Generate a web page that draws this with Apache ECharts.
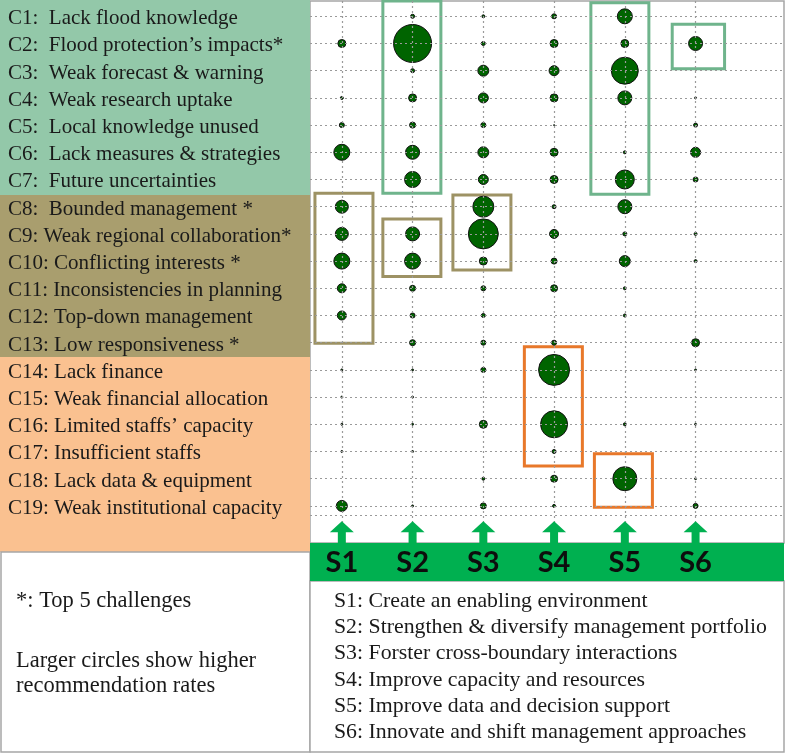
<!DOCTYPE html>
<html>
<head>
<meta charset="utf-8">
<script src="https://cdn.jsdelivr.net/npm/echarts@6/dist/echarts.min.js"></script>
<style>
  html, body { margin: 0; padding: 0; background: #fff; }
  #main { width: 787px; height: 754px; }
</style>
</head>
<body>
<div id="main"></div>
<script>
// challenges (rows) and strategies (columns)
var challenges = [
    'C1:  Lack flood knowledge',
    'C2:  Flood protection\u2019s impacts*',
    'C3:  Weak forecast & warning',
    'C4:  Weak research uptake',
    'C5:  Local knowledge unused',
    'C6:  Lack measures & strategies',
    'C7:  Future uncertainties',
    'C8:  Bounded management *',
    'C9: Weak regional collaboration*',
    'C10: Conflicting interests *',
    'C11: Inconsistencies in planning',
    'C12: Top-down management',
    'C13: Low responsiveness *',
    'C14: Lack finance',
    'C15: Weak financial allocation',
    'C16: Limited staffs\u2019 capacity',
    'C17: Insufficient staffs',
    'C18: Lack data & equipment',
    'C19: Weak institutional capacity'
];
var strategies = ['S1', 'S2', 'S3', 'S4', 'S5', 'S6'];

// recommendation rate per challenge (circle size), one array per strategy
var rateS1 = [0, 8, 0, 3, 5, 16, 0, 13, 13, 16, 9, 9, 0, 2, 2, 2, 2, 0, 11];
var rateS2 = [4, 38, 4, 8, 6, 14, 16, 0, 14, 16, 6, 5, 6, 2, 2, 2, 2, 0, 2];
var rateS3 = [3, 4, 11, 10, 5, 11, 10, 21, 30, 8, 5, 4, 5, 5, 0, 8, 0, 3, 6];
var rateS4 = [5, 8, 10, 8, 1, 8, 8, 4, 9, 6, 7, 0, 5, 31, 0, 27, 4, 7, 3];
var rateS5 = [15, 8, 27, 14, 0, 3, 19, 14, 4, 11, 3, 3, 0, 0, 0, 3, 0, 24, 0];
var rateS6 = [0, 14, 0, 2, 4, 10, 5, 0, 3, 3, 0, 0, 8, 2, 0, 2, 0, 2, 5];
var rates = [rateS1, rateS2, rateS3, rateS4, rateS5, rateS6];

var strategyNotes = [
    'S1: Create an enabling environment',
    'S2: Strengthen & diversify management portfolio',
    'S3: Forster cross-boundary interactions',
    'S4: Improve capacity and resources',
    'S5: Improve data and decision support',
    'S6: Innovate and shift management approaches'
];
var notes = ['*: Top 5 challenges', 'Larger circles show higher', 'recommendation rates'];

// highlighted boxes: [x from, x to, row from, row to] in axis units
var boxTeal = [[1.58, 2.4, 0.44, 7.51], [4.52, 5.34, 0.5, 7.54], [5.67, 6.41, 1.29, 2.93]];
var boxOlive = [[0.62, 1.44, 7.51, 13.02], [1.58, 2.4, 8.45, 10.57], [2.57, 3.39, 7.57, 10.33]];
var boxOrange = [[3.58, 4.4, 13.15, 17.53], [4.57, 5.39, 17.08, 19.05]];

var serif = '"Liberation Serif", "DejaVu Serif", serif';

var bubbles = [];
rates.forEach(function (arr, i) {
    arr.forEach(function (v, j) {
        if (v > 0) bubbles.push([i + 1, j + 1, v]);
    });
});

var areaData = function (boxes) {
    return boxes.map(function (b) {
        return [{ xAxis: b[0], yAxis: b[2] }, { xAxis: b[1], yAxis: b[3] }];
    });
};
var boxSeries = function (boxes, color) {
    return {
        type: 'scatter', data: [], silent: true, z: 4,
        markArea: {
            silent: true,
            itemStyle: { color: 'rgba(0,0,0,0)', borderColor: color, borderWidth: 3 },
            data: areaData(boxes)
        }
    };
};

var gridLines = [];
strategies.forEach(function (s, i) { gridLines.push({ xAxis: i + 1 }); });
challenges.forEach(function (c, j) { gridLines.push({ yAxis: j + 1 }); });
gridLines.push({ yAxis: 19.34 });

var graphics = [
    { type: 'rect', shape: { x: 0, y: 0, width: 310, height: 195 }, style: { fill: '#93c8a9' }, z: 0 },
    { type: 'rect', shape: { x: 0, y: 195, width: 310, height: 162 }, style: { fill: '#a99e6e' }, z: 0 },
    { type: 'rect', shape: { x: 0, y: 357, width: 310, height: 195 }, style: { fill: '#fac190' }, z: 0 },
    { type: 'rect', shape: { x: 1, y: 552, width: 309, height: 200 }, style: { fill: '#fff', stroke: '#a6a6a6', lineWidth: 1.5 }, z: 0 },
    { type: 'rect', shape: { x: 310, y: 581, width: 474, height: 171 }, style: { fill: '#fff', stroke: '#a6a6a6', lineWidth: 1.5 }, z: 0 },
    { type: 'rect', shape: { x: 310, y: 543, width: 474, height: 38 }, style: { fill: '#00b050' }, z: 0 }
];
var noteY = [601, 661, 686];
notes.forEach(function (t, k) {
    graphics.push({ type: 'text', z: 1, style: { text: t, x: 16, y: noteY[k], font: '22.5px ' + serif, fill: '#1a1a1a', verticalAlign: 'middle' } });
});
strategyNotes.forEach(function (t, k) {
    graphics.push({ type: 'text', z: 1, style: { text: t, x: 334, y: 601 + k * 26.3, font: '21.8px ' + serif, fill: '#1a1a1a', verticalAlign: 'middle' } });
});

var option = {
    backgroundColor: '#fff',
    animation: false,
    graphic: graphics,
    grid: [
        { left: 310, right: 3, top: 1, height: 542, show: true, backgroundColor: '#fff', borderColor: '#a6a6a6', borderWidth: 1.5 },
        { left: 0, width: 310, top: 5, height: 517 }
    ],
    xAxis: [
        { type: 'value', gridIndex: 0, min: 0.55, max: 7.25, show: false },
        { type: 'value', gridIndex: 1, show: false }
    ],
    yAxis: [
        { type: 'value', gridIndex: 0, min: 0.4375, max: 20.364, inverse: true, show: false },
        {
            type: 'category', gridIndex: 1, data: challenges, inverse: true,
            axisLine: { show: false }, axisTick: { show: false }, splitLine: { show: false },
            axisLabel: { inside: true, interval: 0, hideOverlap: false, margin: 8, fontFamily: serif, fontSize: 21, color: '#1a1a1a' }
        }
    ],
    series: [
        {
            name: 'rate', type: 'scatter', xAxisIndex: 0, yAxisIndex: 0, z: 2,
            data: bubbles,
            symbolSize: function (d) { return d[2]; },
            itemStyle: { color: '#006400', borderColor: '#111', borderWidth: 1, opacity: 1 }
        },
        {
            type: 'scatter', data: [], silent: true, z: 3,
            markLine: {
                silent: true, symbol: 'none', label: { show: false },
                lineStyle: { color: '#9a9a9a', type: [2, 3], width: 1.2 },
                emphasis: { disabled: true },
                data: gridLines
            }
        },
        boxSeries(boxTeal, '#6fb48c'),
        boxSeries(boxOlive, '#9d9264'),
        boxSeries(boxOrange, '#e8782a'),
        {
            type: 'scatter', silent: true, z: 5,
            data: strategies.map(function (s, i) { return [i + 1, 19.97, s]; }),
            symbol: 'path://M12,0 L24,11 L16,11 L16,22 L8,22 L8,11 L0,11 Z',
            symbolSize: [24, 22],
            itemStyle: { color: '#00b050', opacity: 1 },
            label: {
                show: true, position: 'bottom', distance: 3,
                formatter: function (p) { return p.data[2]; },
                fontFamily: 'Lato', fontWeight: 'bold', fontSize: 29, lineHeight: 32, color: '#0d0d0d'
            }
        },
        { type: 'scatter', xAxisIndex: 1, yAxisIndex: 1, data: [] }
    ]
};

var myChart = echarts.init(document.getElementById('main'));
myChart.setOption(option);
</script>
</body>
</html>
